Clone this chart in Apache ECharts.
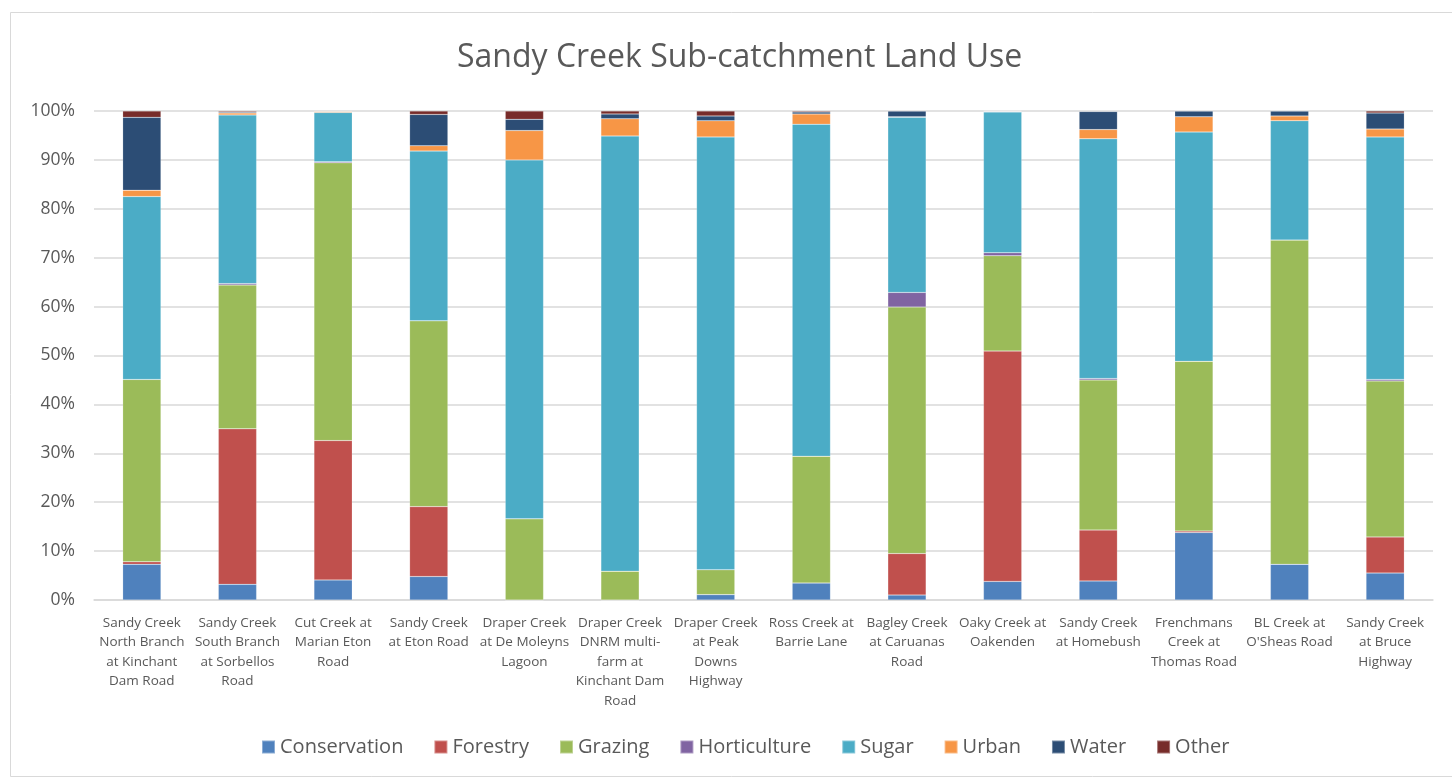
<!DOCTYPE html>
<html>
<head>
<meta charset="utf-8">
<script src="https://cdn.jsdelivr.net/npm/echarts@6/dist/echarts.min.js"></script>
<style>
  html, body { margin: 0; padding: 0; background: #fff; }
  #chart { width: 1452px; height: 780px; }
</style>
</head>
<body>
<div id="chart"></div>
<script>
// sites along the x axis (line breaks as in the original)
const sites = [
  'Sandy Creek\nNorth Branch\nat Kinchant\nDam Road',
  'Sandy Creek\nSouth Branch\nat Sorbellos\nRoad',
  'Cut Creek at\nMarian Eton\nRoad',
  'Sandy Creek\nat Eton Road',
  'Draper Creek\nat De Moleyns\nLagoon',
  'Draper Creek\nDNRM multi-\nfarm at\nKinchant Dam\nRoad',
  'Draper Creek\nat Peak\nDowns\nHighway',
  'Ross Creek at\nBarrie Lane',
  'Bagley Creek\nat Caruanas\nRoad',
  'Oaky Creek at\nOakenden',
  'Sandy Creek\nat Homebush',
  'Frenchmans\nCreek at\nThomas Road',
  'BL Creek at\nO\'Sheas Road',
  'Sandy Creek\nat Bruce\nHighway'
];

// land use share per site, percent
const conservation = [7.3, 3.2, 4.1, 4.8, 0, 0, 1.1, 3.5, 1.0, 3.8, 3.9, 13.8, 7.3, 5.5];
const forestry     = [0.5, 31.8, 28.5, 14.3, 0, 0, 0, 0, 8.5, 47.1, 10.4, 0.3, 0, 7.4];
const grazing      = [37.3, 29.4, 56.8, 38.0, 16.6, 5.9, 5.1, 25.9, 50.4, 19.5, 30.7, 34.7, 66.3, 31.9];
const horticulture = [0, 0.3, 0.2, 0, 0, 0, 0, 0, 3.0, 0.6, 0.3, 0, 0, 0.3];
const sugar        = [37.4, 34.5, 10.1, 34.7, 73.4, 89.0, 88.5, 67.9, 35.8, 28.8, 49.0, 46.9, 24.4, 49.6];
const urban        = [1.3, 0.4, 0.2, 1.1, 6.0, 3.5, 3.3, 2.1, 0.1, 0.1, 1.9, 3.1, 1.0, 1.6];
const water        = [14.9, 0.2, 0.05, 6.4, 2.3, 1.0, 1.0, 0.4, 1.2, 0.1, 3.7, 1.2, 1.0, 3.3];
const other        = [1.3, 0.2, 0.05, 0.7, 1.7, 0.6, 1.0, 0.2, 0, 0, 0.1, 0, 0, 0.4];

const seriesDefs = [
  { name: 'Conservation', data: conservation, color: '#4f81bd' },
  { name: 'Forestry', data: forestry, color: '#c0504d' },
  { name: 'Grazing', data: grazing, color: '#9bbb59' },
  { name: 'Horticulture', data: horticulture, color: '#8064a2' },
  { name: 'Sugar', data: sugar, color: '#4bacc6' },
  { name: 'Urban', data: urban, color: '#f79646' },
  { name: 'Water', data: water, color: '#2c4d75' },
  { name: 'Other', data: other, color: '#772c2a' }
];

const FONT = '"Open Sans", "Liberation Sans", sans-serif';
const TEXT = '#595959';

const chart = echarts.init(document.getElementById('chart'));

chart.setOption({
  animation: false,
  backgroundColor: '#fff',
  graphic: [{
    type: 'rect',
    shape: { x: 10.5, y: 12.5, width: 1450, height: 764 },
    style: { fill: 'none', stroke: '#d9d9d9', lineWidth: 1 },
    silent: true
  }],
  title: {
    text: 'Sandy Creek Sub-catchment Land Use',
    left: 452,
    top: 37,
    textStyle: { fontFamily: FONT, fontSize: 32, fontWeight: 'normal', color: TEXT }
  },
  legend: {
    bottom: 18,
    left: 256,
    itemWidth: 13,
    itemHeight: 13,
    itemGap: 30,
    icon: 'rect',
    textStyle: { fontFamily: FONT, fontSize: 20, color: TEXT }
  },
  grid: { left: 94, right: 19, top: 111, bottom: 180 },
  xAxis: {
    type: 'category',
    data: sites,
    axisLine: { lineStyle: { color: '#d9d9d9', width: 1.5 } },
    axisTick: { show: false },
    axisLabel: {
      interval: 0,
      margin: 13,
      fontFamily: FONT,
      fontSize: 13.5,
      lineHeight: 19.5,
      color: TEXT
    }
  },
  yAxis: {
    type: 'value',
    min: 0,
    max: 100,
    interval: 10,
    axisLine: { show: false },
    axisTick: { show: false },
    splitLine: { lineStyle: { color: '#d9d9d9', width: 1.5 } },
    axisLabel: {
      formatter: '{value}%',
      margin: 19,
      fontFamily: FONT,
      fontSize: 17.5,
      color: TEXT
    }
  },
  series: seriesDefs.map(s => ({
    name: s.name,
    type: 'bar',
    stack: 'landuse',
    data: s.data,
    barWidth: '40%',
    itemStyle: { color: s.color, borderColor: 'rgba(255,255,255,0.35)', borderWidth: 0.5 }
  }))
});
</script>
</body>
</html>
